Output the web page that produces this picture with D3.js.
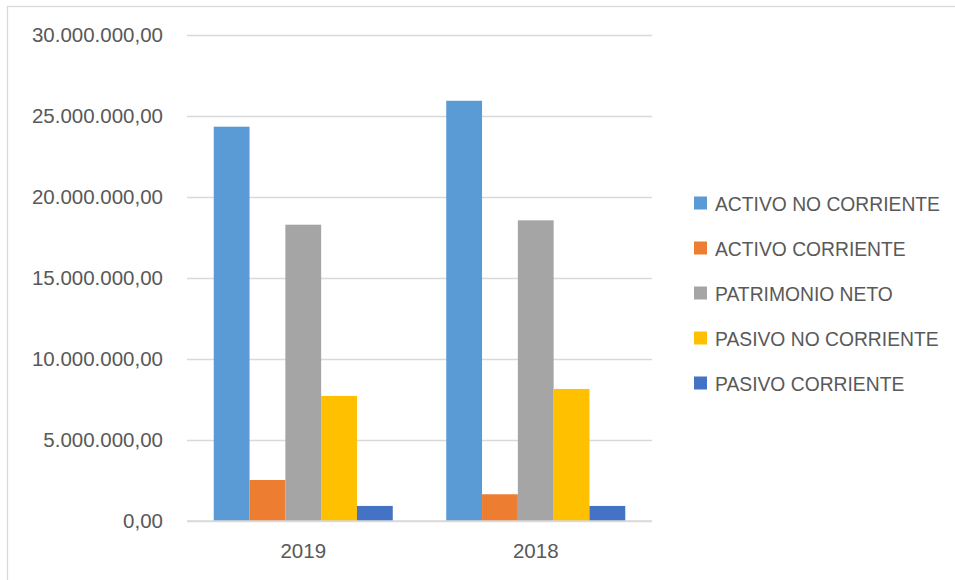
<!DOCTYPE html>
<html>
<head>
<meta charset="utf-8">
<script src="https://cdn.jsdelivr.net/npm/d3@7"></script>
<style>
  body { margin: 0; background: #fff; }
  svg { display: block; font-family: "Liberation Sans", Arial, sans-serif; }
  .tick text { fill: #595959; }
</style>
</head>
<body>
<svg id="chart"></svg>
<script>
// data
let years = ['2019', '2018'];
let seriesNames = ['ACTIVO NO CORRIENTE', 'ACTIVO CORRIENTE', 'PATRIMONIO NETO', 'PASIVO NO CORRIENTE', 'PASIVO CORRIENTE'];
let seriesColors = ['#5B9BD5', '#ED7D31', '#A5A5A5', '#FFC000', '#4472C4'];
let values2019 = [24340000, 2530000, 18290000, 7720000, 930000];
let values2018 = [25940000, 1650000, 18560000, 8150000, 930000];
let yTicks = [0, 5000000, 10000000, 15000000, 20000000, 25000000, 30000000];

let valuesByYear = [values2019, values2018];

let width = 955, height = 580;
let plotLeft = 187, plotRight = 652, plotTop = 35, plotBottom = 521;

let svg = d3.select('#chart')
            .attr('width', width)
            .attr('height', height);

// chart frame (right and bottom edges fall outside the picture)
svg.append('rect')
   .attr('x', 7.5)
   .attr('y', 6.5)
   .attr('width', 960)
   .attr('height', 590)
   .attr('fill', 'none')
   .attr('stroke', '#d9d9d9')
   .attr('stroke-width', 1.3);

let esLocale = d3.formatLocale({decimal: ',', thousands: '.', grouping: [3], currency: ['', '€']});
let numFormat = esLocale.format(',.2f');

let yScale = d3.scaleLinear()
               .domain([0, 30000000])
               .range([plotBottom, plotTop]);

let xScale = d3.scaleBand()
               .domain(years)
               .range([plotLeft, plotRight])
               .paddingInner(0.23)
               .paddingOuter(0.115);

let xInner = d3.scaleBand()
               .domain(seriesNames)
               .range([0, xScale.bandwidth()]);

let yAxis = d3.axisLeft(yScale)
              .tickValues(yTicks)
              .tickSize(-(plotRight - plotLeft))
              .tickPadding(24)
              .tickFormat(numFormat);

let yG = svg.append('g')
            .attr('transform', 'translate(' + plotLeft + ',0)')
            .call(yAxis);
yG.select('.domain').remove();
yG.selectAll('.tick line')
  .attr('stroke', '#d9d9d9')
  .attr('stroke-width', 1.3);
yG.selectAll('.tick text')
  .style('font-size', '20.5px');

let xAxis = d3.axisBottom(xScale)
              .tickSize(0)
              .tickPadding(22);

let xG = svg.append('g')
            .attr('transform', 'translate(0,' + plotBottom + ')')
            .call(xAxis);
xG.select('.domain').remove();
xG.selectAll('.tick text')
  .style('font-size', '20.5px');

// bars
let groups = svg.selectAll('.group')
                .data(years)
                .enter()
                .append('g')
                .attr('class', 'group')
                .attr('transform', (d) => 'translate(' + xScale(d) + ',0)');

groups.selectAll('rect')
      .data((d, i) => valuesByYear[i].map((v, j) => ({name: seriesNames[j], value: v, color: seriesColors[j]})))
      .enter()
      .append('rect')
      .attr('x', (d) => xInner(d.name))
      .attr('y', (d) => yScale(d.value))
      .attr('width', xInner.bandwidth())
      .attr('height', (d) => plotBottom - yScale(d.value))
      .attr('fill', (d) => d.color);

// redraw zero line over bars
svg.append('line')
   .attr('x1', plotLeft)
   .attr('x2', plotRight)
   .attr('y1', yScale(0))
   .attr('y2', yScale(0))
   .attr('stroke', '#d9d9d9')
   .attr('stroke-width', 1.3);

// legend
let legend = svg.append('g')
                .attr('transform', 'translate(694,203)');

let items = legend.selectAll('.item')
                  .data(seriesNames)
                  .enter()
                  .append('g')
                  .attr('class', 'item')
                  .attr('transform', (d, i) => 'translate(0,' + (i * 45) + ')');

items.append('rect')
     .attr('x', 0)
     .attr('y', -6.5)
     .attr('width', 13)
     .attr('height', 13)
     .attr('fill', (d, i) => seriesColors[i]);

items.append('text')
     .attr('x', 21)
     .attr('y', 7.5)
     .attr('fill', '#595959')
     .style('font-size', '19.3px')
     .text((d) => d);
</script>
</body>
</html>
